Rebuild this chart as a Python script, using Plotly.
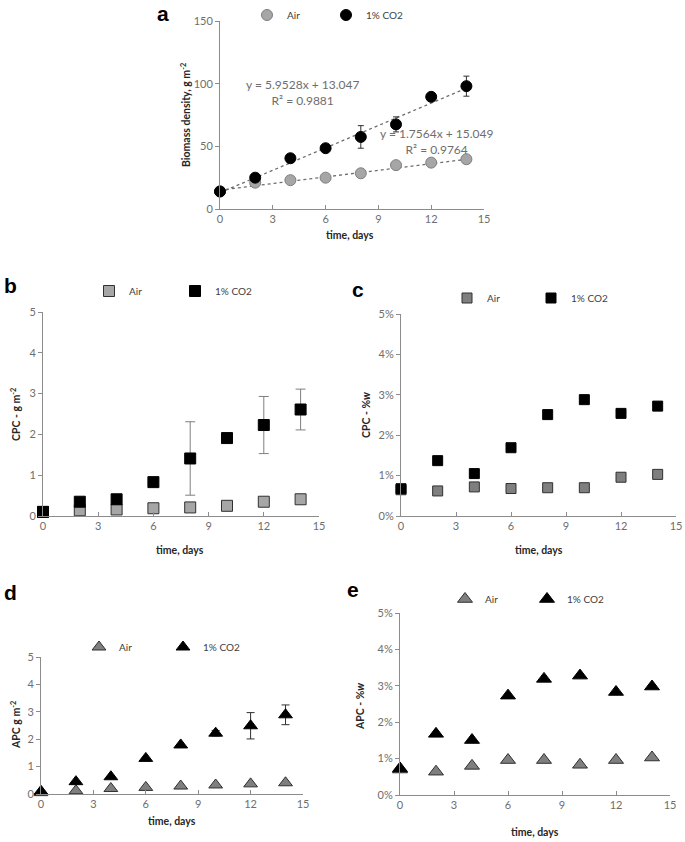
import plotly.graph_objects as go

# ---------------- data ----------------
days = [0, 2, 4, 6, 8, 10, 12, 14]

biomass_air = [14, 21, 23, 25, 28.5, 35, 37, 39.7]
biomass_co2 = [14, 25, 40.5, 48.5, 57.5, 67.5, 89.5, 98]
biomass_co2_err = [1, 2, 1.5, 2, 9, 6, 1.5, 8]
trend_names = ["Air", "1% CO2"]
trend_slopes = [1.7564, 5.9528]
trend_intercepts = [15.049, 13.047]
trend_labels = ["y = 1.7564x + 15.049<br>R² = 0.9764", "y = 5.9528x + 13.047<br>R² = 0.9881"]

cpc_air = [0.1, 0.14, 0.16, 0.19, 0.21, 0.25, 0.35, 0.41]
cpc_co2 = [0.1, 0.35, 0.41, 0.83, 1.41, 1.91, 2.23, 2.61]
cpc_co2_err = [0, 0, 0, 0, 0.9, 0, 0.7, 0.5]

cpc_pct_air = [0.0065, 0.0062, 0.0072, 0.0068, 0.0070, 0.0070, 0.0096, 0.0103]
cpc_pct_co2 = [0.00675, 0.0137, 0.0105, 0.0169, 0.0251, 0.0288, 0.0254, 0.0272]

apc_air = [0.05, 0.12, 0.2, 0.24, 0.29, 0.33, 0.37, 0.41]
apc_co2 = [0.1, 0.45, 0.63, 1.3, 1.79, 2.22, 2.49, 2.89]
apc_co2_err = [0, 0, 0, 0, 0, 0.1, 0.48, 0.36]

apc_pct_air = [0.007, 0.0064, 0.0080, 0.0096, 0.0096, 0.0083, 0.0096, 0.0103]
apc_pct_co2 = [0.0073, 0.0168, 0.0151, 0.0273, 0.0319, 0.0328, 0.0283, 0.0298]

x_ticks = [0, 3, 6, 9, 12, 15]

# ---------------- style ----------------
W, H = 685, 842
FONT = "Lato, 'Open Sans', sans-serif"
TICKC = "#6e6e6e"
AXC = "#8c8c8c"
OUTL = "#303030"
GRAY_L = "#a6a6a6"
GRAY_D = "#7f7f7f"


def fx(x):
    return x / W


def fy(y):
    return (H - y) / H


def px_x(a, b):
    return [fx(a), fx(b)]


def px_y(top, bottom):
    return [fy(bottom), fy(top)]


fig = go.Figure()

panels = {
    # name: (xdomain px, ydomain px, yrange, dtick, tickformat)
    "1": ((220, 484), (21, 209), [0, 150], 50, None),
    "2": ((43, 319), (312, 516), [0, 5], 1, None),
    "3": ((401, 676), (314, 516), [0, 0.05], 0.01, ".0%"),
    "4": ((41, 303), (657, 794), [0, 5], 1, None),
    "5": ((400, 670), (613, 795), [0, 0.05], 0.01, ".0%"),
}

layout_axes = {}
for k, (xd, yd, yr, dt, tf) in panels.items():
    xa = "xaxis" if k == "1" else f"xaxis{k}"
    ya = "yaxis" if k == "1" else f"yaxis{k}"
    layout_axes[xa] = dict(
        domain=px_x(*xd), range=[0, 15], tickvals=x_ticks, anchor="y" if k == "1" else f"y{k}",
        showgrid=False, zeroline=False, showline=True, linecolor=AXC, linewidth=1,
        ticks="inside", ticklen=4, tickcolor=AXC, tickfont=dict(family=FONT, size=11, color=TICKC),
        ticklabeloverflow="allow", fixedrange=True,
    )
    ya_d = dict(
        domain=px_y(*yd), range=yr, dtick=dt, tick0=0, anchor="x" if k == "1" else f"x{k}",
        showgrid=False, zeroline=False, showline=True, linecolor=AXC, linewidth=1,
        ticks="outside", ticklen=4, tickcolor=AXC, tickfont=dict(family=FONT, size=11, color=TICKC),
        ticklabeloverflow="allow", fixedrange=True,
    )
    if tf:
        ya_d["tickformat"] = tf
    layout_axes[ya] = ya_d

# ---- panel a ----
for name, s, b in zip(trend_names, trend_slopes, trend_intercepts):
    fig.add_trace(go.Scatter(
        x=[days[0], days[-1]], y=[s * days[0] + b, s * days[-1] + b], mode="lines",
        line=dict(color="#6e6e6e", width=1.3, dash="dot"), showlegend=False, hoverinfo="skip",
        xaxis="x", yaxis="y"))

fig.add_trace(go.Scatter(
    x=days, y=biomass_air, mode="markers", name="Air", legend="legend",
    marker=dict(symbol="circle", size=11, color=GRAY_L, line=dict(color=GRAY_D, width=1)),
    cliponaxis=False, xaxis="x", yaxis="y"))
fig.add_trace(go.Scatter(
    x=days, y=biomass_co2, mode="markers", name="1% CO2", legend="legend",
    error_y=dict(type="data", array=biomass_co2_err, color=OUTL, thickness=1, width=3),
    marker=dict(symbol="circle", size=11, color="#000000", line=dict(color="#000000", width=1)),
    cliponaxis=False, xaxis="x", yaxis="y"))

# ---- panel b ----
fig.add_trace(go.Scatter(
    x=days, y=cpc_air, mode="markers", name="Air", legend="legend2",
    marker=dict(symbol="square", size=11, color=GRAY_L, line=dict(color=OUTL, width=1)),
    cliponaxis=False, xaxis="x2", yaxis="y2"))
fig.add_trace(go.Scatter(
    x=days, y=cpc_co2, mode="markers", name="1% CO2", legend="legend2",
    error_y=dict(type="data", array=cpc_co2_err, color=GRAY_D, thickness=1, width=5),
    marker=dict(symbol="square", size=11, color="#000000", line=dict(color="#000000", width=1)),
    cliponaxis=False, xaxis="x2", yaxis="y2"))

# ---- panel c ----
fig.add_trace(go.Scatter(
    x=days, y=cpc_pct_air, mode="markers", name="Air", legend="legend3",
    marker=dict(symbol="square", size=10, color=GRAY_D, line=dict(color=OUTL, width=1)),
    cliponaxis=False, xaxis="x3", yaxis="y3"))
fig.add_trace(go.Scatter(
    x=days, y=cpc_pct_co2, mode="markers", name="1% CO2", legend="legend3",
    marker=dict(symbol="square", size=10, color="#000000", line=dict(color="#000000", width=1)),
    cliponaxis=False, xaxis="x3", yaxis="y3"))

# ---- panel d ----
fig.add_trace(go.Scatter(
    x=days, y=apc_air, mode="markers", name="Air", legend="legend4",
    marker=dict(symbol="triangle-up", size=12, color=GRAY_D, line=dict(color=OUTL, width=1)),
    cliponaxis=False, xaxis="x4", yaxis="y4"))
fig.add_trace(go.Scatter(
    x=days, y=apc_co2, mode="markers", name="1% CO2", legend="legend4",
    error_y=dict(type="data", array=apc_co2_err, color=OUTL, thickness=1, width=4),
    marker=dict(symbol="triangle-up", size=12, color="#000000", line=dict(color="#000000", width=1)),
    cliponaxis=False, xaxis="x4", yaxis="y4"))

# ---- panel e ----
fig.add_trace(go.Scatter(
    x=days, y=apc_pct_air, mode="markers", name="Air", legend="legend5",
    marker=dict(symbol="triangle-up", size=13, color=GRAY_D, line=dict(color=OUTL, width=1)),
    cliponaxis=False, xaxis="x5", yaxis="y5"))
fig.add_trace(go.Scatter(
    x=days, y=apc_pct_co2, mode="markers", name="1% CO2", legend="legend5",
    marker=dict(symbol="triangle-up", size=13, color="#000000", line=dict(color="#000000", width=1)),
    cliponaxis=False, xaxis="x5", yaxis="y5"))


def legend_at(mx, my, spacing):
    return dict(
        x=fx(mx - 31), y=fy(my), xanchor="left", yanchor="middle", orientation="h",
        font=dict(family=FONT, size=10, color="#404040"), bgcolor="rgba(0,0,0,0)",
        itemwidth=30, entrywidth=spacing - 40, entrywidthmode="pixels", tracegroupgap=0,
    )


annotations = []


def ann(text, x, y, size=10.5, color="#262626", bold=True, angle=0, family=FONT, xanchor="center"):
    annotations.append(dict(
        text=f"<b>{text}</b>" if bold else text, x=fx(x), y=fy(y), xref="paper", yref="paper",
        showarrow=False, textangle=angle, xanchor=xanchor, yanchor="middle",
        font=dict(family=family, size=size, color=color)))


# panel letters
LETTER_FONT = "'Liberation Sans', Arial, sans-serif"
ann("a", 163, 13, size=21, color="#000000", family=LETTER_FONT)
ann("b", 10, 285, size=21, color="#000000", family=LETTER_FONT)
ann("c", 358, 289, size=21, color="#000000", family=LETTER_FONT)
ann("d", 10, 592, size=21, color="#000000", family=LETTER_FONT)
ann("e", 353, 589, size=21, color="#000000", family=LETTER_FONT)

# axis titles
ann("time, days", 350, 235)
ann("time, days", 180, 550)
ann("time, days", 539, 550)
ann("time, days", 172, 821)
ann("time, days", 535, 832)
ann("Biomass density, g m<sup>-2</sup>", 185, 115, angle=-90)
ann("CPC - g m<sup>-2</sup>", 15, 415, angle=-90)
ann("CPC - %<i>w</i>", 366, 415, angle=-90)
ann("APC g m<sup>-2</sup>", 15, 725, angle=-90)
ann("APC - %<i>w</i>", 360, 707, angle=-90)

# trendline equations
ann(trend_labels[1], 302, 92, size=12, color=TICKC, bold=False)
ann(trend_labels[0], 436, 141, size=12, color=TICKC, bold=False)

fig.update_layout(
    width=W, height=H, margin=dict(l=0, r=0, t=0, b=0, autoexpand=False),
    paper_bgcolor="white", plot_bgcolor="white",
    showlegend=True,
    legend=legend_at(278, 15, 74),
    legend2=legend_at(120, 291, 81),
    legend3=legend_at(478, 298, 79),
    legend4=legend_at(110, 647, 79),
    legend5=legend_at(476, 599, 77),
    annotations=annotations,
    **layout_axes,
)

# remove the browser's default 8px page margin so the figure fills the window exactly
fig.write_html("out.html", config={"displayModeBar": False},
               post_script="document.body.style.margin='0';")
